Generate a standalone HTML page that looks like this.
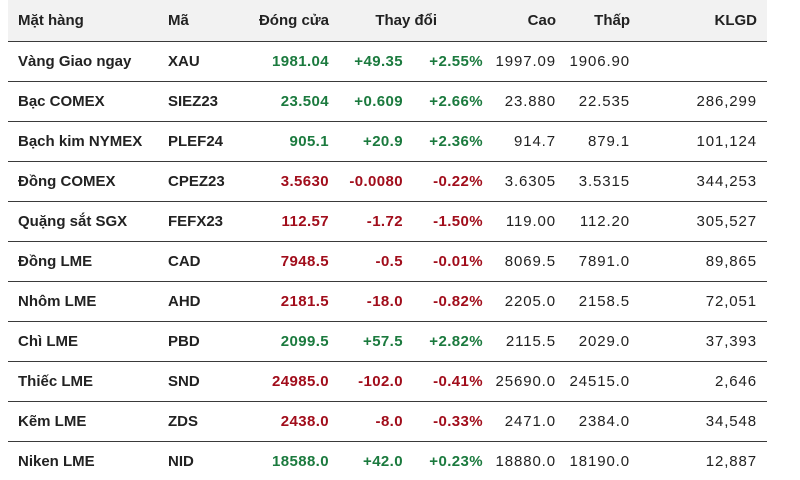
<!DOCTYPE html>
<html><head><meta charset="utf-8"><style>
body{margin:0;width:800px;height:480px;background:#fff;position:relative;overflow:hidden;font-family:"Liberation Sans",sans-serif;font-size:15px;color:#222}
.hd{position:absolute;left:8px;top:0;width:759px;height:41px;background:#f2f2f2}
.ln{position:absolute;left:8px;width:759px;height:1px;background:#3a3a3a}
.c{position:absolute;white-space:nowrap;line-height:20px}
.b{font-weight:bold}
.r{text-align:right}
.n{letter-spacing:0.9px}
.g{color:#1b7a3e;font-weight:bold;letter-spacing:0.4px}
.d{color:#a10d1b;font-weight:bold;letter-spacing:0.4px}
</style></head><body>
<div class="hd"></div>
<div id="t"></div>
<script>
const H=[["Mặt hàng",18,"l"],["Mã",168,"l"],["Đóng cửa",329,"r"],["Thay đổi",437,"r"],["Cao",556,"r"],["Thấp",630,"r"],["KLGD",757,"r"]];
const R=[
["Vàng Giao ngay","XAU","1981.04","+49.35","+2.55%","1997.09","1906.90",""],
["Bạc COMEX","SIEZ23","23.504","+0.609","+2.66%","23.880","22.535","286,299"],
["Bạch kim NYMEX","PLEF24","905.1","+20.9","+2.36%","914.7","879.1","101,124"],
["Đồng COMEX","CPEZ23","3.5630","-0.0080","-0.22%","3.6305","3.5315","344,253"],
["Quặng sắt SGX","FEFX23","112.57","-1.72","-1.50%","119.00","112.20","305,527"],
["Đồng LME","CAD","7948.5","-0.5","-0.01%","8069.5","7891.0","89,865"],
["Nhôm LME","AHD","2181.5","-18.0","-0.82%","2205.0","2158.5","72,051"],
["Chì LME","PBD","2099.5","+57.5","+2.82%","2115.5","2029.0","37,393"],
["Thiếc LME","SND","24985.0","-102.0","-0.41%","25690.0","24515.0","2,646"],
["Kẽm LME","ZDS","2438.0","-8.0","-0.33%","2471.0","2384.0","34,548"],
["Niken LME","NID","18588.0","+42.0","+0.23%","18880.0","18190.0","12,887"]];
let h="";
function cell(t,x,y,al,cls){
 if(al=="l")h+=`<div class="c ${cls}" style="left:${x}px;top:${y}px">${t}</div>`;
 else h+=`<div class="c r ${cls}" style="right:${800-x}px;top:${y}px">${t}</div>`;
}
H.forEach(a=>cell(a[0],a[1],11,a[2],"b"));
R.forEach((r,i)=>{
 const y=52+40*i;
 h+=`<div class="ln" style="top:${41+40*i}px"></div>`;
 const col=r[3][0]=="+"?"g":"d";
 cell(r[0],18,y,"l","b");
 cell(r[1],168,y,"l","b");
 cell(r[2],329,y,"r",col);
 cell(r[3],403,y,"r",col);
 cell(r[4],483,y,"r",col);
 cell(r[5],556,y,"r","n");
 cell(r[6],630,y,"r","n");
 cell(r[7],757,y,"r","n");
});
document.getElementById("t").innerHTML=h;
</script>
</body></html>
